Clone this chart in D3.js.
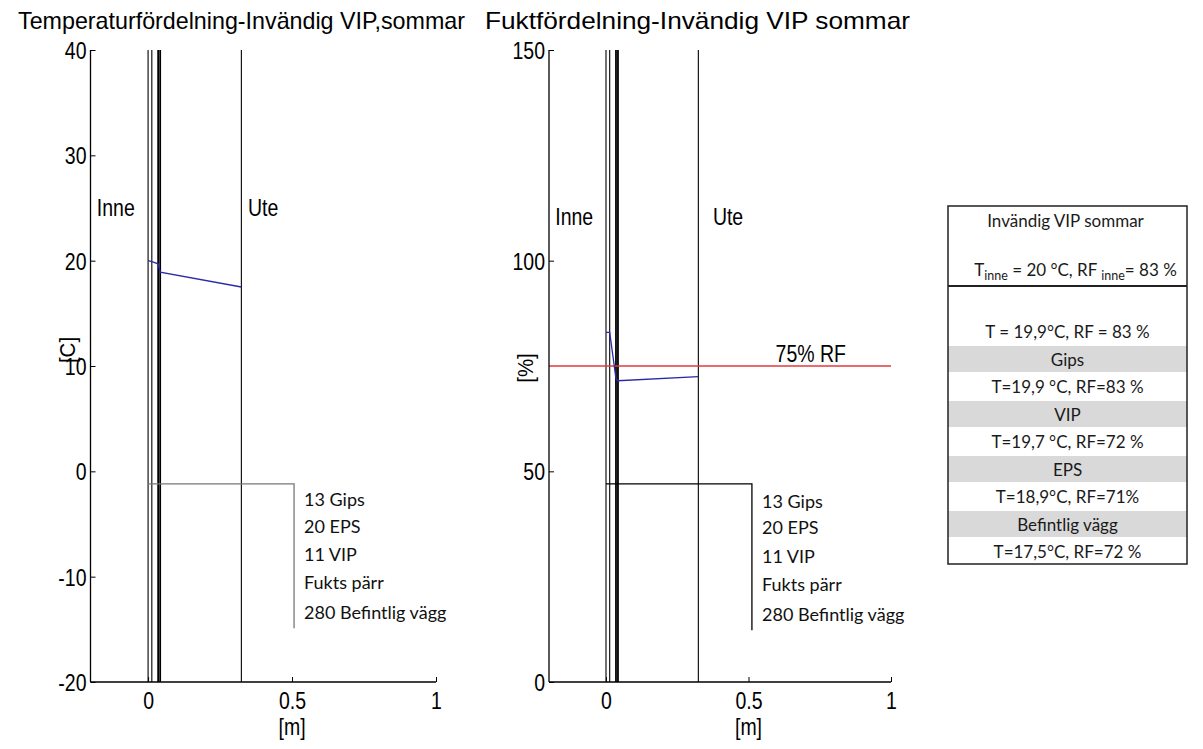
<!DOCTYPE html>
<html>
<head>
<meta charset="utf-8">
<script src="https://cdn.jsdelivr.net/npm/d3@7"></script>
<style>
  html, body { margin: 0; padding: 0; background: #fff; }
  svg { display: block; }
</style>
</head>
<body>
<div id="chart"></div>
<script>
// Layer position (m) and profiles for inner VIP, summer
const layerX = [0, 0.013, 0.035, 0.042, 0.324];
const layerW = [1.1, 1.1, 1.8, 1.8, 1.1];
const tempX = [0, 0.013, 0.035, 0.042, 0.324];
const tempY = [20.0, 19.9, 19.7, 18.9, 17.5];
const rhX = [0, 0.013, 0.035, 0.042, 0.324];
const rhY = [83, 83, 72, 71.5, 72.5];
const rhLimit = 75;

const xTicks = [0, 0.5, 1];
const tempTicks = [-20, -10, 0, 10, 20, 30, 40];
const rhTicks = [0, 50, 100, 150];

const legendItems = ['13 Gips', '20 EPS', '11 VIP', 'Fukts pärr', '280 Befintlig vägg'];
// legend bracket: [x end, y top, y bottom] in data units
const tempBracket = [0.507, -1.2, -14.9];
const rhBracket = [0.512, 47, 12.3];

const tableRows = [
  { text: 'T = 19,9°C, RF = 83 %', shade: false },
  { text: 'Gips', shade: true },
  { text: 'T=19,9 °C, RF=83 %', shade: false },
  { text: 'VIP', shade: true },
  { text: 'T=19,7 °C, RF=72 %', shade: false },
  { text: 'EPS', shade: true },
  { text: 'T=18,9°C, RF=71%', shade: false },
  { text: 'Befintlig vägg', shade: true },
  { text: 'T=17,5°C, RF=72 %', shade: false }
];

(function() {
  const width = 1203;
  const height = 749;
  const plotFont = '"Liberation Sans", Arial, sans-serif';
  const boxFont = 'Lato, "Open Sans", sans-serif';
  const blue = '#2a2aa8';
  const red = '#e23a3a';
  const stretch = 1.2; // figure text is drawn taller than wide

  const svg = d3.select('#chart')
    .append('svg')
    .attr('width', width)
    .attr('height', height)
    .style('background', '#fff');

  // plot text, vertically stretched, vertically centred on y
  function tall(g, x, y, str, anchor) {
    return g.append('text')
      .attr('transform', `translate(${x},${y}) scale(1,${stretch})`)
      .attr('dy', '0.36em')
      .attr('text-anchor', anchor || 'start')
      .attr('font-family', plotFont)
      .attr('font-size', '19.5px')
      .attr('fill', '#000')
      .text(str);
  }

  function drawPanel(opt) {
    const x = d3.scaleLinear().domain([-0.2, 1]).range(opt.xRange);
    const y = d3.scaleLinear().domain(opt.yDomain).range([682, 50]);
    const g = svg.append('g');

    // Title
    tall(g, opt.titleX, 21, opt.title)
      .attr('textLength', opt.titleLen)
      .attr('lengthAdjust', 'spacingAndGlyphs');

    // Layer boundaries
    layerX.forEach((lx, i) => {
      g.append('line')
        .attr('x1', x(lx)).attr('x2', x(lx))
        .attr('y1', y.range()[1]).attr('y2', y.range()[0])
        .attr('stroke', '#000')
        .attr('stroke-width', layerW[i]);
    });

    // Limit line (humidity only)
    if (opt.limit != null) {
      g.append('line')
        .attr('x1', opt.xRange[0]).attr('x2', x(1))
        .attr('y1', y(opt.limit)).attr('y2', y(opt.limit))
        .attr('stroke', red)
        .attr('stroke-width', 1.3);
      tall(g, x(0.595), y(opt.limit) - 12, opt.limit + '% RF');
    }

    // Profile
    const pts = opt.px.map((v, i) => [v, opt.py[i]]);
    g.append('path')
      .datum(pts)
      .attr('fill', 'none')
      .attr('stroke', blue)
      .attr('stroke-width', 1.3)
      .attr('d', d3.line().x(d => x(d[0])).y(d => y(d[1])));

    // Legend bracket and labels
    const b = opt.bracket;
    g.append('path')
      .attr('fill', 'none')
      .attr('stroke', opt.bracketColor)
      .attr('stroke-width', 1.3)
      .attr('d', `M${x(0)},${y(b[1])}H${x(b[0])}V${y(b[2])}`);

    opt.legendY.forEach((ly, i) => {
      g.append('text')
        .attr('x', opt.legendX)
        .attr('y', ly)
        .attr('dy', '0.36em')
        .attr('font-family', boxFont)
        .attr('font-size', '18px')
        .attr('fill', '#111')
        .text(legendItems[i]);
    });

    // Inne / Ute
    tall(g, x(-0.178), y(opt.sideY), 'Inne');
    tall(g, x(opt.uteX), y(opt.sideY), 'Ute');

    // Axes (ticks inside, MATLAB style)
    const yAxis = d3.axisLeft(y).tickValues(opt.yTicks).tickSize(-5).tickPadding(4)
      .tickFormat(d => String(d));
    const xAxis = d3.axisBottom(x).tickValues(xTicks).tickSize(-5).tickPadding(0)
      .tickFormat(d => String(d));

    const ya = g.append('g')
      .attr('transform', `translate(${opt.xRange[0]},0)`)
      .call(yAxis);
    const xa = g.append('g')
      .attr('transform', `translate(0,682)`)
      .call(xAxis);
    ya.select('.domain').attr('d', 'M0,682V50');
    xa.select('.domain').attr('d', `M${opt.xRange[0]},0H${x(1)}`);
    [ya, xa].forEach(a => {
      a.select('.domain').attr('stroke', '#000').attr('stroke-width', 1.3);
      a.selectAll('.tick line').attr('stroke', '#000');
      a.selectAll('text')
        .attr('font-family', plotFont)
        .attr('font-size', '19.5px')
        .attr('fill', '#000');
    });
    ya.selectAll('.tick text')
      .attr('transform', `scale(1,${stretch})`)
      .attr('dy', '0.36em');
    xa.selectAll('.tick text')
      .attr('y', 0)
      .attr('transform', `translate(0,19) scale(1,${stretch})`)
      .attr('dy', '0.36em');

    // Axis labels
    g.append('text')
      .attr('transform', `translate(${opt.xRange[0] - 16},${opt.yLabelY}) rotate(-90) scale(1.05,1.1)`)
      .attr('text-anchor', 'middle')
      .attr('font-family', plotFont).attr('font-size', '19.5px')
      .text(opt.yLabel);
    tall(g, x(0.5), 727, '[m]', 'middle');
  }

  drawPanel({
    title: 'Temperaturfördelning-Invändig VIP,sommar',
    titleX: 18, titleLen: 447,
    xRange: [90.5, 436], yDomain: [-20, 40], yTicks: tempTicks,
    px: tempX, py: tempY, limit: null,
    bracket: tempBracket, bracketColor: '#777',
    legendX: 304, legendY: [500, 527, 555, 583, 613],
    sideY: 25, uteX: 0.347, yLabel: '[C]', yLabelY: 350
  });

  drawPanel({
    title: 'Fuktfördelning-Invändig VIP sommar',
    titleX: 485, titleLen: 425,
    xRange: [549, 891], yDomain: [0, 150], yTicks: rhTicks,
    px: rhX, py: rhY, limit: rhLimit,
    bracket: rhBracket, bracketColor: '#000',
    legendX: 762, legendY: [502, 528, 557, 585, 615],
    sideY: 110.4, uteX: 0.375, yLabel: '[%]', yLabelY: 368
  });

  // Summary table on the right
  const tx = 948, tw = 239, top = 206, bottom = 564;
  const cx = tx + tw / 2;
  const t = svg.append('g').attr('font-family', boxFont).attr('font-size', '17px').attr('fill', '#1a1a1a');

  const rowH = 27.5;
  const firstRow = 332;
  tableRows.forEach((r, i) => {
    const cy = firstRow + i * rowH;
    if (r.shade) {
      t.append('rect')
        .attr('x', tx).attr('y', cy - 13.5)
        .attr('width', tw).attr('height', 26)
        .attr('fill', '#d9d9d9');
    }
    t.append('text')
      .attr('x', cx).attr('y', cy)
      .attr('dy', '0.36em')
      .attr('text-anchor', 'middle')
      .text(r.text);
  });

  t.append('text')
    .attr('x', cx - 2).attr('y', 221)
    .attr('dy', '0.36em')
    .attr('text-anchor', 'middle')
    .text('Invändig VIP sommar');

  const sub = t.append('text')
    .attr('x', cx + 8).attr('y', 270)
    .attr('dy', '0.36em')
    .attr('text-anchor', 'middle');
  sub.append('tspan').text('T');
  sub.append('tspan').attr('font-size', '12.5px').attr('dy', 4).text('inne');
  sub.append('tspan').attr('dy', -4).text(' = 20 °C, RF ');
  sub.append('tspan').attr('font-size', '12.5px').attr('dy', 4).text('inne');
  sub.append('tspan').attr('dy', -4).text('= 83 %');

  t.append('line')
    .attr('x1', tx).attr('x2', tx + tw)
    .attr('y1', 286).attr('y2', 286)
    .attr('stroke', '#222').attr('stroke-width', 1.8);

  t.append('rect')
    .attr('x', tx).attr('y', top)
    .attr('width', tw).attr('height', bottom - top)
    .attr('fill', 'none')
    .attr('stroke', '#222')
    .attr('stroke-width', 1.5);
})();
</script>
</body>
</html>
